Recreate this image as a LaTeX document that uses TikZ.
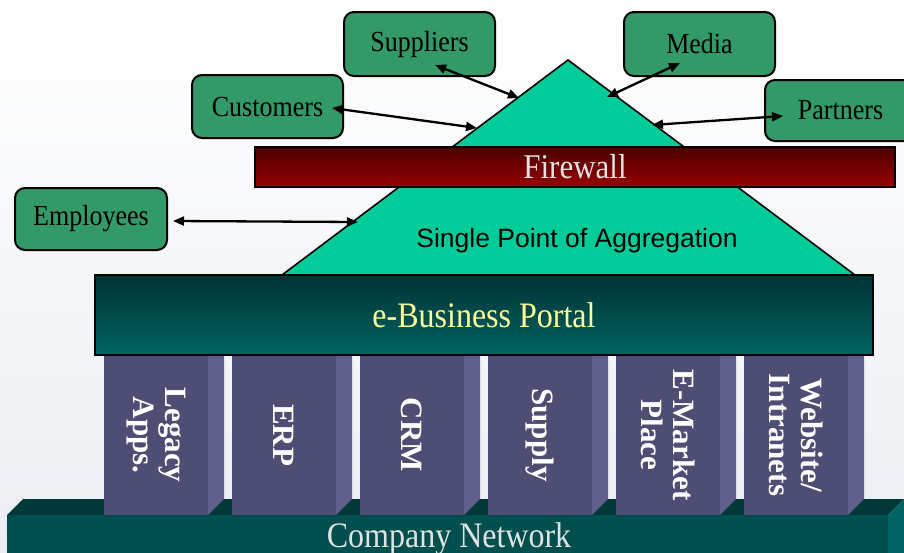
\documentclass[tikz,border=0pt]{standalone}
\usepackage{fontspec}
\setmainfont{Liberation Serif}
\newfontfamily\arialf{Liberation Sans}
\usetikzlibrary{arrows.meta,calc}
\definecolor{boxgreen}{HTML}{339966}
\definecolor{trigreen}{HTML}{00CC99}
\definecolor{fwtop}{HTML}{4A0000}
\definecolor{fwbot}{HTML}{990000}
\definecolor{portaltop}{HTML}{003333}
\definecolor{portalbot}{HTML}{006363}
\definecolor{pillarfront}{HTML}{4E4E75}
\definecolor{pillarside}{HTML}{5E5E8A}
\definecolor{netfront}{HTML}{004F4F}
\definecolor{nettop}{HTML}{003838}
\definecolor{netside}{HTML}{006464}
\definecolor{portaltext}{HTML}{FFFF99}
\definecolor{lighttext}{HTML}{E2E2E2}
\definecolor{bgbottom}{HTML}{ECEEF3}
\newcommand\tallt[1]{\scalebox{1}[1.12]{#1}}
\newcommand\boxt[1]{\raisebox{-3pt}{\scalebox{1}[1.12]{#1}}}
\begin{document}
\begin{tikzpicture}[x=1pt,y=-1pt,
  stake/.style={draw=black, line width=2pt, fill=boxgreen, rounded corners=10pt,
    inner sep=0pt, font=\fontsize{26}{28}\selectfont},
  link/.style={{Triangle[length=11pt,width=9pt]}-{Triangle[length=11pt,width=9pt]}, line width=2.3pt},
  pillarfront/.style={fill=pillarfront, draw=none},
  pillarside/.style={fill=pillarside, draw=none},
  pillartext/.style={text=white, font=\bfseries\fontsize{31}{32}\selectfont, align=center, rotate=-90},
  band/.style={draw=black, line width=2pt, inner sep=0pt}
]
\clip (0,0) rectangle (904,552);
\useasboundingbox (0,0) rectangle (904,552);
\shade[top color=white, bottom color=bgbottom] (0,0) rectangle (904,552);

% company network slab
\fill[nettop] (7,515) -- (23,499) -- (904,499) -- (888,515) -- cycle;
\fill[netside] (888,515) -- (904,499) -- (904,560) -- (888,560) -- cycle;
\fill[netfront] (7,515) rectangle (888,560);
\node[anchor=base, text=lighttext, font=\fontsize{32}{34}\selectfont] (net) at (449,547) {\tallt{Company Network}};

% pillars
\foreach \i/\name in {0/p1,1/p2,2/p3,3/p4,4/p5,5/p6}{
  \pgfmathsetmacro\xl{104+128*\i}
  \fill[pillarside] (\xl+104,355) -- (\xl+120,355) -- (\xl+120,499) -- (\xl+104,515) -- cycle;
  \fill[pillarfront] (\xl,355) rectangle (\xl+104,515);
  \coordinate (\name) at (\xl+52,435);
}
\node[pillartext] (legacy) at (p1) {Legacy\\Apps.};
\node[pillartext] (erp) at (p2) {ERP};
\node[pillartext] (crm) at (p3) {CRM};
\node[pillartext] (supply) at (p4) {Supply};
\node[pillartext] (emarket) at (p5) {E-Market\\Place};
\node[pillartext] (website) at (p6) {Website/\\Intranets};

% aggregation triangle
\coordinate (apex) at (568,60);
\coordinate (bl) at (282,275);
\coordinate (br) at (855,275);
\draw[fill=trigreen, line width=1.6pt, line join=miter] (apex) -- (br) -- (bl) -- cycle;
\node[font=\arialf\fontsize{26.5}{28}\selectfont, text=black] (agg) at (577,241) {Single Point of Aggregation};

% firewall
\node[band, top color=fwtop, bottom color=fwbot, minimum width=640pt, minimum height=40pt,
  text=lighttext, font=\fontsize{31}{33}\selectfont] (fw) at (575,167) {\tallt{Firewall}};

% portal
\node[band, top color=portaltop, bottom color=portalbot, minimum width=778pt, minimum height=80pt,
  text=portaltext, font=\fontsize{32}{34}\selectfont] (portal) at (484,315) {\tallt{e-Business Portal}};

% stakeholder boxes
\node[stake, minimum width=151pt, minimum height=64pt] (sup) at (419.5,44) {\boxt{Suppliers}};
\node[stake, minimum width=151pt, minimum height=64pt] (media) at (699.5,44) {\boxt{Media}};
\node[stake, minimum width=151pt, minimum height=63pt] (cust) at (267.5,106.5) {\boxt{Customers}};
\node[stake, minimum width=151pt, minimum height=61pt] (part) at (840.5,110.5) {\boxt{Partners}};
\node[stake, minimum width=152pt, minimum height=62pt] (emp) at (91,219) {\boxt{Employees}};

% connector end points on the triangle
\coordinate (tSup) at (519,98);
\coordinate (tMedia) at (607,97);
\coordinate (tCust) at (477,128);
\coordinate (tPart) at (652,125);
\coordinate (tEmp) at (358,222);

\draw[link] ([shift={(15.5,21)}]sup.center) -- (tSup);
\draw[link] ([shift={(-19.5,19)}]media.center) -- (tMedia);
\draw[link] ([shift={(64.5,1.5)}]cust.center) -- (tCust);
\draw[link] ([shift={(-57.5,5.5)}]part.center) -- (tPart);
\draw[link] ([shift={(5,2)}]emp.east) -- (tEmp);
\end{tikzpicture}
\end{document}
